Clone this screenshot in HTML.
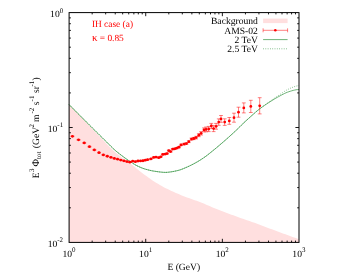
<!DOCTYPE html>
<html><head><meta charset="utf-8"><title>plot</title>
<style>html,body{margin:0;padding:0;background:#fff;}body{width:349px;height:274px;overflow:hidden;font-family:"Liberation Serif",serif;}</style>
</head><body>
<svg width="349" height="274" viewBox="0 0 349 274" style="display:block;filter:blur(0.3px)">
<rect width="349" height="274" fill="#fff"/>
<path d="M69.1,104.8 L71.03,106.81 L72.96,108.82 L74.9,110.82 L76.83,112.83 L78.76,114.83 L80.69,116.84 L82.62,118.84 L84.56,120.84 L86.49,122.84 L88.42,124.84 L90.35,126.85 L92.28,128.85 L94.22,130.85 L96.15,132.84 L98.08,134.83 L100.01,136.81 L101.94,138.81 L103.87,140.85 L105.81,142.9 L107.74,144.93 L109.67,146.93 L111.6,148.85 L113.53,150.69 L115.47,152.4 L117.4,153.99 L119.33,155.49 L121.26,156.95 L123.19,158.38 L125.13,159.76 L127.06,161.13 L128.99,162.52 L130.92,163.99 L132.85,165.52 L134.79,167.1 L136.72,168.68 L138.65,170.24 L140.58,171.75 L142.51,173.23 L144.45,174.68 L146.38,176.11 L148.31,177.5 L150.24,178.84 L152.17,180.16 L154.11,181.45 L156.04,182.68 L157.97,183.86 L159.9,184.99 L161.83,186.08 L163.76,187.13 L165.7,188.15 L167.63,189.12 L169.56,190.07 L171.49,190.98 L173.42,191.86 L175.36,192.72 L177.29,193.56 L179.22,194.37 L181.15,195.16 L183.08,195.93 L185.02,196.68 L186.95,197.4 L188.88,198.11 L190.81,198.81 L192.74,199.51 L194.68,200.19 L196.61,200.86 L198.54,201.55 L200.47,202.28 L202.4,203.06 L204.34,203.86 L206.27,204.69 L208.2,205.52 L210.13,206.34 L212.06,207.14 L213.99,207.92 L215.93,208.69 L217.86,209.46 L219.79,210.22 L221.72,210.97 L223.65,211.72 L225.59,212.46 L227.52,213.19 L229.45,213.92 L231.38,214.64 L233.31,215.35 L235.25,216.05 L237.18,216.75 L239.11,217.45 L241.04,218.14 L242.97,218.82 L244.91,219.5 L246.84,220.18 L248.77,220.85 L250.7,221.51 L252.63,222.17 L254.57,222.85 L256.5,223.54 L258.43,224.25 L260.36,224.97 L262.29,225.69 L264.23,226.43 L266.16,227.16 L268.09,227.9 L270.02,228.63 L271.95,229.36 L273.88,230.09 L275.82,230.8 L277.75,231.51 L279.68,232.22 L281.61,232.93 L283.54,233.63 L285.48,234.34 L287.41,235.04 L289.34,235.74 L291.27,236.43 L293.2,237.13 L295.14,237.82 L297.07,238.51 L299,239.2 L299,242.4 L69.1,242.4 Z" fill="#ffdfdf"/>
<path d="M69.1,104.6 L70.55,106.06 L71.99,107.53 L73.44,108.99 L74.88,110.44 L76.33,111.9 L77.78,113.36 L79.22,114.81 L80.67,116.26 L82.11,117.71 L83.56,119.16 L85.01,120.61 L86.45,122.05 L87.9,123.49 L89.34,124.93 L90.79,126.37 L92.23,127.81 L93.68,129.24 L95.13,130.68 L96.57,132.11 L98.02,133.54 L99.46,134.97 L100.91,136.4 L102.36,137.82 L103.8,139.25 L105.25,140.67 L106.69,142.09 L108.14,143.53 L109.59,144.99 L111.03,146.45 L112.48,147.87 L113.92,149.23 L115.37,150.52 L116.82,151.74 L118.26,152.91 L119.71,154.03 L121.15,155.14 L122.6,156.23 L124.04,157.3 L125.49,158.36 L126.94,159.39 L128.38,160.39 L129.83,161.35 L131.27,162.3 L132.72,163.24 L134.17,164.14 L135.61,165 L137.06,165.79 L138.5,166.48 L139.95,167.13 L141.4,167.74 L142.84,168.3 L144.29,168.81 L145.73,169.25 L147.18,169.65 L148.63,170.03 L150.07,170.37 L151.52,170.69 L152.96,170.97 L154.41,171.21 L155.85,171.42 L157.3,171.63 L158.75,171.83 L160.19,172.02 L161.64,172.17 L163.08,172.3 L164.53,172.38 L165.98,172.4 L167.42,172.31 L168.87,172.15 L170.31,171.96 L171.76,171.75 L173.21,171.51 L174.65,171.23 L176.1,170.91 L177.54,170.57 L178.99,170.2 L180.44,169.75 L181.88,169.23 L183.33,168.66 L184.77,168.05 L186.22,167.43 L187.66,166.8 L189.11,166.14 L190.56,165.45 L192,164.73 L193.45,163.98 L194.89,163.2 L196.34,162.4 L197.79,161.56 L199.23,160.69 L200.68,159.78 L202.12,158.84 L203.57,157.87 L205.02,156.87 L206.46,155.8 L207.91,154.69 L209.35,153.55 L210.8,152.38 L212.25,151.21 L213.69,150.04 L215.14,148.86 L216.58,147.66 L218.03,146.44 L219.47,145.22 L220.92,143.98 L222.37,142.74 L223.81,141.49 L225.26,140.22 L226.7,138.95 L228.15,137.66 L229.6,136.36 L231.04,135.06 L232.49,133.74 L233.93,132.4 L235.38,131.06 L236.83,129.69 L238.27,128.29 L239.72,126.86 L241.16,125.42 L242.61,123.99 L244.06,122.59 L245.5,121.24 L246.95,119.93 L248.39,118.65 L249.84,117.35 L251.28,116.04 L252.73,114.74 L254.18,113.45 L255.62,112.18 L257.07,110.95 L258.51,109.77 L259.96,108.65 L261.41,107.58 L262.85,106.54 L264.3,105.54 L265.74,104.56 L267.19,103.61 L268.64,102.67 L270.08,101.75 L271.53,100.83 L272.97,99.93 L274.42,99.04 L275.87,98.18 L277.31,97.34 L278.76,96.54 L280.2,95.76 L281.65,94.98 L283.09,94.21 L284.54,93.47 L285.99,92.8 L287.43,92.21 L288.88,91.71 L290.32,91.24 L291.77,90.8 L293.22,90.39 L294.66,90.05 L296.11,89.78 L297.55,89.6 L299,89.5" fill="none" stroke="#1f8a2e" stroke-width="0.65"/>
<path d="M69.1,104.6 L70.55,106.06 L71.99,107.53 L73.44,108.99 L74.88,110.44 L76.33,111.9 L77.78,113.36 L79.22,114.81 L80.67,116.26 L82.11,117.71 L83.56,119.16 L85.01,120.61 L86.45,122.05 L87.9,123.49 L89.34,124.93 L90.79,126.37 L92.23,127.81 L93.68,129.24 L95.13,130.68 L96.57,132.11 L98.02,133.54 L99.46,134.97 L100.91,136.4 L102.36,137.82 L103.8,139.25 L105.25,140.67 L106.69,142.09 L108.14,143.53 L109.59,144.99 L111.03,146.45 L112.48,147.87 L113.92,149.23 L115.37,150.52 L116.82,151.74 L118.26,152.91 L119.71,154.03 L121.15,155.14 L122.6,156.23 L124.04,157.3 L125.49,158.36 L126.94,159.39 L128.38,160.39 L129.83,161.35 L131.27,162.3 L132.72,163.24 L134.17,164.14 L135.61,165 L137.06,165.79 L138.5,166.48 L139.95,167.13 L141.4,167.74 L142.84,168.3 L144.29,168.81 L145.73,169.25 L147.18,169.65 L148.63,170.03 L150.07,170.37 L151.52,170.69 L152.96,170.97 L154.41,171.21 L155.85,171.42 L157.3,171.63 L158.75,171.83 L160.19,172.02 L161.64,172.17 L163.08,172.3 L164.53,172.38 L165.98,172.4 L167.42,172.31 L168.87,172.15 L170.31,171.96 L171.76,171.75 L173.21,171.51 L174.65,171.23 L176.1,170.91 L177.54,170.57 L178.99,170.2 L180.44,169.75 L181.88,169.23 L183.33,168.66 L184.77,168.05 L186.22,167.43 L187.66,166.8 L189.11,166.14 L190.56,165.45 L192,164.73 L193.45,163.98 L194.89,163.2 L196.34,162.4 L197.79,161.56 L199.23,160.69 L200.68,159.78 L202.12,158.84 L203.57,157.87 L205.02,156.87 L206.46,155.8 L207.91,154.69 L209.35,153.55 L210.8,152.38 L212.25,151.21 L213.69,150.04 L215.14,148.86 L216.58,147.66 L218.03,146.44 L219.47,145.22 L220.92,143.98 L222.37,142.74 L223.81,141.49 L225.26,140.22 L226.7,138.95 L228.15,137.66 L229.6,136.36 L231.04,135.06 L232.49,133.74 L233.93,132.4 L235.38,131.06 L236.83,129.69 L238.27,128.29 L239.72,126.86 L241.16,125.42 L242.61,123.99 L244.06,122.59 L245.5,121.24 L246.95,119.93 L248.39,118.65 L249.84,117.35 L251.28,116.04 L252.73,114.74 L254.18,113.45 L255.62,112.18 L257.07,110.95 L258.51,109.77 L259.5,108.9 L260.17,108.4 L260.84,107.91 L261.51,107.41 L262.18,106.92 L262.85,106.43 L263.52,105.94 L264.19,105.45 L264.86,104.97 L265.53,104.49 L266.19,104 L266.86,103.52 L267.53,103.05 L268.2,102.57 L268.87,102.1 L269.54,101.62 L270.21,101.15 L270.88,100.68 L271.55,100.21 L272.22,99.75 L272.89,99.28 L273.56,98.82 L274.23,98.36 L274.9,97.9 L275.57,97.44 L276.24,96.98 L276.91,96.53 L277.58,96.08 L278.25,95.63 L278.92,95.19 L279.58,94.74 L280.25,94.29 L280.92,93.83 L281.59,93.37 L282.26,92.91 L282.93,92.45 L283.6,91.99 L284.27,91.55 L284.94,91.11 L285.61,90.69 L286.28,90.29 L286.95,89.9 L287.62,89.54 L288.29,89.21 L288.96,88.89 L289.63,88.58 L290.3,88.28 L290.97,87.98 L291.64,87.7 L292.31,87.43 L292.97,87.17 L293.64,86.92 L294.31,86.68 L294.98,86.46 L295.65,86.26 L296.32,86.07 L296.99,85.9 L297.66,85.75 L298.33,85.62 L299,85.5" fill="none" stroke="#1f8a2e" stroke-width="0.65" stroke-dasharray="0.8 1.5"/>
<g stroke="#ff0000" stroke-width="0.5" fill="#ff0000"><path d="M72.42,136.03 V136.63 M70.52,136.03 H74.32 M70.52,136.63 H74.32" fill="none"/><circle cx="72.42" cy="136.33" r="1.4" stroke="none"/><path d="M78.54,139.56 V140.19 M76.64,139.56 H80.44 M76.64,140.19 H80.44" fill="none"/><circle cx="78.54" cy="139.87" r="1.4" stroke="none"/><path d="M84.23,142.62 V143.26 M82.33,142.62 H86.13 M82.33,143.26 H86.13" fill="none"/><circle cx="84.23" cy="142.94" r="1.4" stroke="none"/><path d="M89.45,146.35 V147 M87.55,146.35 H91.35 M87.55,147 H91.35" fill="none"/><circle cx="89.45" cy="146.67" r="1.4" stroke="none"/><path d="M94.35,149.62 V150.28 M92.45,149.62 H96.25 M92.45,150.28 H96.25" fill="none"/><circle cx="94.35" cy="149.95" r="1.4" stroke="none"/><path d="M99.03,152.34 V153.01 M97.13,152.34 H100.93 M97.13,153.01 H100.93" fill="none"/><circle cx="99.03" cy="152.68" r="1.4" stroke="none"/><path d="M103.36,154.55 V155.24 M101.46,154.55 H105.26 M101.46,155.24 H105.26" fill="none"/><circle cx="103.36" cy="154.9" r="1.4" stroke="none"/><path d="M107.3,155.91 V156.6 M105.4,155.91 H109.2 M105.4,156.6 H109.2" fill="none"/><circle cx="107.3" cy="156.25" r="1.4" stroke="none"/><path d="M110.92,157.02 V157.72 M109.02,157.02 H112.82 M109.02,157.72 H112.82" fill="none"/><circle cx="110.92" cy="157.37" r="1.4" stroke="none"/><path d="M114.31,158.05 V158.76 M112.41,158.05 H116.21 M112.41,158.76 H116.21" fill="none"/><circle cx="114.31" cy="158.4" r="1.4" stroke="none"/><path d="M117.58,158.79 V159.51 M115.68,158.79 H119.48 M115.68,159.51 H119.48" fill="none"/><circle cx="117.58" cy="159.15" r="1.4" stroke="none"/><path d="M120.8,159.72 V160.45 M118.9,159.72 H122.7 M118.9,160.45 H122.7" fill="none"/><circle cx="120.8" cy="160.08" r="1.4" stroke="none"/><path d="M123.96,160.45 V161.19 M122.06,160.45 H125.86 M122.06,161.19 H125.86" fill="none"/><circle cx="123.96" cy="160.82" r="1.4" stroke="none"/><path d="M126.99,161.23 V161.97 M125.09,161.23 H128.89 M125.09,161.97 H128.89" fill="none"/><circle cx="126.99" cy="161.6" r="1.4" stroke="none"/><path d="M129.9,161.79 V162.54 M128,161.79 H131.8 M128,162.54 H131.8" fill="none"/><circle cx="129.9" cy="162.16" r="1.4" stroke="none"/><path d="M132.7,160.75 V161.5 M130.8,160.75 H134.6 M130.8,161.5 H134.6" fill="none"/><circle cx="132.7" cy="161.13" r="1.4" stroke="none"/><path d="M135.39,161.28 V162.04 M133.49,161.28 H137.29 M133.49,162.04 H137.29" fill="none"/><circle cx="135.39" cy="161.66" r="1.4" stroke="none"/><path d="M137.99,160.62 V161.39 M136.09,160.62 H139.89 M136.09,161.39 H139.89" fill="none"/><circle cx="137.99" cy="161.01" r="1.4" stroke="none"/><path d="M140.51,160.49 V161.27 M138.61,160.49 H142.41 M138.61,161.27 H142.41" fill="none"/><circle cx="140.51" cy="160.88" r="1.4" stroke="none"/><path d="M142.96,160.36 V161.14 M141.06,160.36 H144.86 M141.06,161.14 H144.86" fill="none"/><circle cx="142.96" cy="160.75" r="1.4" stroke="none"/><path d="M145.33,159.81 V160.6 M143.43,159.81 H147.23 M143.43,160.6 H147.23" fill="none"/><circle cx="145.33" cy="160.2" r="1.4" stroke="none"/><path d="M147.62,159.25 V160.05 M145.72,159.25 H149.52 M145.72,160.05 H149.52" fill="none"/><circle cx="147.62" cy="159.65" r="1.4" stroke="none"/><path d="M150.9,158.5 V159.3 M149,158.5 H152.8 M149,159.3 H152.8" fill="none"/><circle cx="150.9" cy="158.9" r="1.4" stroke="none"/><path d="M153.7,157 V157.8 M151.8,157 H155.6 M151.8,157.8 H155.6" fill="none"/><circle cx="153.7" cy="157.4" r="1.4" stroke="none"/><path d="M156,156.7 V157.5 M154.1,156.7 H157.9 M154.1,157.5 H157.9" fill="none"/><circle cx="156" cy="157.1" r="1.4" stroke="none"/><path d="M158.7,157.3 V158.1 M156.8,157.3 H160.6 M156.8,158.1 H160.6" fill="none"/><circle cx="158.7" cy="157.7" r="1.4" stroke="none"/><path d="M160.8,156.4 V157.2 M158.9,156.4 H162.7 M158.9,157.2 H162.7" fill="none"/><circle cx="160.8" cy="156.8" r="1.4" stroke="none"/><path d="M162.8,153.9 V154.9 M160.9,153.9 H164.7 M160.9,154.9 H164.7" fill="none"/><circle cx="162.8" cy="154.4" r="1.4" stroke="none"/><path d="M165.1,153.6 V154.6 M163.2,153.6 H167 M163.2,154.6 H167" fill="none"/><circle cx="165.1" cy="154.1" r="1.4" stroke="none"/><path d="M167,153.1 V154.1 M165.1,153.1 H168.9 M165.1,154.1 H168.9" fill="none"/><circle cx="167" cy="153.6" r="1.4" stroke="none"/><path d="M168.8,150.1 V151.1 M166.9,150.1 H170.7 M166.9,151.1 H170.7" fill="none"/><circle cx="168.8" cy="150.6" r="1.4" stroke="none"/><path d="M170.6,151 V152.2 M168.7,151 H172.5 M168.7,152.2 H172.5" fill="none"/><circle cx="170.6" cy="151.6" r="1.4" stroke="none"/><path d="M172.75,148.5 V149.7 M170.85,148.5 H174.65 M170.85,149.7 H174.65" fill="none"/><circle cx="172.75" cy="149.1" r="1.4" stroke="none"/><path d="M174.8,148.2 V149.4 M172.9,148.2 H176.7 M172.9,149.4 H176.7" fill="none"/><circle cx="174.8" cy="148.8" r="1.4" stroke="none"/><path d="M176.8,147.5 V148.7 M174.9,147.5 H178.7 M174.9,148.7 H178.7" fill="none"/><circle cx="176.8" cy="148.1" r="1.4" stroke="none"/><path d="M178.9,146.5 V147.9 M177,146.5 H180.8 M177,147.9 H180.8" fill="none"/><circle cx="178.9" cy="147.2" r="1.4" stroke="none"/><path d="M181.1,144.2 V145.6 M179.2,144.2 H183 M179.2,145.6 H183" fill="none"/><circle cx="181.1" cy="144.9" r="1.4" stroke="none"/><path d="M184.1,143.3 V144.9 M182.2,143.3 H186 M182.2,144.9 H186" fill="none"/><circle cx="184.1" cy="144.1" r="1.4" stroke="none"/><path d="M186.4,142.8 V144.4 M184.5,142.8 H188.3 M184.5,144.4 H188.3" fill="none"/><circle cx="186.4" cy="143.6" r="1.4" stroke="none"/><path d="M188.8,140.8 V142.6 M186.9,140.8 H190.7 M186.9,142.6 H190.7" fill="none"/><circle cx="188.8" cy="141.7" r="1.4" stroke="none"/><path d="M191.5,138.1 V140.1 M189.6,138.1 H193.4 M189.6,140.1 H193.4" fill="none"/><circle cx="191.5" cy="139.1" r="1.4" stroke="none"/><path d="M193.8,137.4 V139.6 M191.9,137.4 H195.7 M191.9,139.6 H195.7" fill="none"/><circle cx="193.8" cy="138.5" r="1.4" stroke="none"/><path d="M196.1,136.3 V138.9 M194.2,136.3 H198 M194.2,138.9 H198" fill="none"/><circle cx="196.1" cy="137.6" r="1.4" stroke="none"/><path d="M198.8,133.7 V136.7 M196.9,133.7 H200.7 M196.9,136.7 H200.7" fill="none"/><circle cx="198.8" cy="135.2" r="1.4" stroke="none"/><path d="M201.1,131.6 V135 M199.2,131.6 H203 M199.2,135 H203" fill="none"/><circle cx="201.1" cy="133.3" r="1.4" stroke="none"/><path d="M204,127.9 V131.9 M202.1,127.9 H205.9 M202.1,131.9 H205.9" fill="none"/><circle cx="204" cy="129.9" r="1.4" stroke="none"/><path d="M206.1,127 V131.8 M204.2,127 H208 M204.2,131.8 H208" fill="none"/><circle cx="206.1" cy="129.4" r="1.4" stroke="none"/><path d="M208.7,126.4 V131.6 M206.8,126.4 H210.6 M206.8,131.6 H210.6" fill="none"/><circle cx="208.7" cy="129" r="1.4" stroke="none"/><path d="M211.3,123.4 V128.6 M209.4,123.4 H213.2 M209.4,128.6 H213.2" fill="none"/><circle cx="211.3" cy="126" r="1.4" stroke="none"/><path d="M213.6,125.6 V131.6 M211.7,125.6 H215.5 M211.7,131.6 H215.5" fill="none"/><circle cx="213.6" cy="128.6" r="1.4" stroke="none"/><path d="M216.1,123.4 V129.2 M214.2,123.4 H218 M214.2,129.2 H218" fill="none"/><circle cx="216.1" cy="126.3" r="1.4" stroke="none"/><path d="M218.75,118.9 V125.3 M216.85,118.9 H220.65 M216.85,125.3 H220.65" fill="none"/><circle cx="218.75" cy="122.1" r="1.4" stroke="none"/><path d="M221,115.5 V122.3 M219.1,115.5 H222.9 M219.1,122.3 H222.9" fill="none"/><circle cx="221" cy="118.9" r="1.4" stroke="none"/><path d="M224.7,118.8 V125.4 M222.8,118.8 H226.6 M222.8,125.4 H226.6" fill="none"/><circle cx="224.7" cy="122.1" r="1.4" stroke="none"/><path d="M229.3,117.5 V124.3 M227.4,117.5 H231.2 M227.4,124.3 H231.2" fill="none"/><circle cx="229.3" cy="120.9" r="1.4" stroke="none"/><path d="M234,113.2 V122.2 M232.1,113.2 H235.9 M232.1,122.2 H235.9" fill="none"/><circle cx="234" cy="117.7" r="1.4" stroke="none"/><path d="M238.5,107.2 V117.2 M236.6,107.2 H240.4 M236.6,117.2 H240.4" fill="none"/><circle cx="238.5" cy="112.2" r="1.4" stroke="none"/><path d="M243.8,102.9 V112.9 M241.9,102.9 H245.7 M241.9,112.9 H245.7" fill="none"/><circle cx="243.8" cy="107.9" r="1.4" stroke="none"/><path d="M250.8,100.3 V112.5 M248.9,100.3 H252.7 M248.9,112.5 H252.7" fill="none"/><circle cx="250.8" cy="106.4" r="1.4" stroke="none"/><path d="M259.7,97.7 V113.9 M257.8,97.7 H261.6 M257.8,113.9 H261.6" fill="none"/><circle cx="259.7" cy="105.8" r="1.4" stroke="none"/></g>
<g stroke="#000" stroke-width="1" fill="none"><rect x="69.1" y="12.6" width="229.9" height="229.8"/></g><g stroke="#000" stroke-width="0.9" fill="none"><path d="M92.17,242.4 v-1.8 M92.17,12.6 v1.8 M105.66,242.4 v-1.8 M105.66,12.6 v1.8 M115.24,242.4 v-1.8 M115.24,12.6 v1.8 M122.66,242.4 v-1.8 M122.66,12.6 v1.8 M128.73,242.4 v-1.8 M128.73,12.6 v1.8 M133.86,242.4 v-1.8 M133.86,12.6 v1.8 M138.31,242.4 v-1.8 M138.31,12.6 v1.8 M142.23,242.4 v-1.8 M142.23,12.6 v1.8 M145.73,242.4 v-3.6 M145.73,12.6 v3.6 M168.8,242.4 v-1.8 M168.8,12.6 v1.8 M182.3,242.4 v-1.8 M182.3,12.6 v1.8 M191.87,242.4 v-1.8 M191.87,12.6 v1.8 M199.3,242.4 v-1.8 M199.3,12.6 v1.8 M205.37,242.4 v-1.8 M205.37,12.6 v1.8 M210.5,242.4 v-1.8 M210.5,12.6 v1.8 M214.94,242.4 v-1.8 M214.94,12.6 v1.8 M218.86,242.4 v-1.8 M218.86,12.6 v1.8 M222.37,242.4 v-3.6 M222.37,12.6 v3.6 M245.44,242.4 v-1.8 M245.44,12.6 v1.8 M258.93,242.4 v-1.8 M258.93,12.6 v1.8 M268.5,242.4 v-1.8 M268.5,12.6 v1.8 M275.93,242.4 v-1.8 M275.93,12.6 v1.8 M282,242.4 v-1.8 M282,12.6 v1.8 M287.13,242.4 v-1.8 M287.13,12.6 v1.8 M291.57,242.4 v-1.8 M291.57,12.6 v1.8 M295.49,242.4 v-1.8 M295.49,12.6 v1.8 M69.1,207.81 h1.8 M299,207.81 h-1.8 M69.1,187.58 h1.8 M299,187.58 h-1.8 M69.1,173.22 h1.8 M299,173.22 h-1.8 M69.1,162.09 h1.8 M299,162.09 h-1.8 M69.1,152.99 h1.8 M299,152.99 h-1.8 M69.1,145.3 h1.8 M299,145.3 h-1.8 M69.1,138.63 h1.8 M299,138.63 h-1.8 M69.1,132.76 h1.8 M299,132.76 h-1.8 M69.1,127.5 h3.6 M299,127.5 h-3.6 M69.1,92.91 h1.8 M299,92.91 h-1.8 M69.1,72.68 h1.8 M299,72.68 h-1.8 M69.1,58.32 h1.8 M299,58.32 h-1.8 M69.1,47.19 h1.8 M299,47.19 h-1.8 M69.1,38.09 h1.8 M299,38.09 h-1.8 M69.1,30.4 h1.8 M299,30.4 h-1.8 M69.1,23.73 h1.8 M299,23.73 h-1.8 M69.1,17.86 h1.8 M299,17.86 h-1.8"/></g>
<g font-family="'Liberation Serif', serif" font-size="9.6" fill="#000" text-rendering="geometricPrecision" transform="rotate(0.02)"><text x="63.2" y="16.7" text-anchor="end">10<tspan font-size="7.0" dy="-4.2">0</tspan></text><text x="63.2" y="131.6" text-anchor="end">10<tspan font-size="7.0" dy="-4.2">-1</tspan></text><text x="63.2" y="246.5" text-anchor="end">10<tspan font-size="7.0" dy="-4.2">-2</tspan></text><text x="69.1" y="256.6" text-anchor="middle">10<tspan font-size="7.0" dy="-4.2">0</tspan></text><text x="145.73" y="256.6" text-anchor="middle">10<tspan font-size="7.0" dy="-4.2">1</tspan></text><text x="222.37" y="256.6" text-anchor="middle">10<tspan font-size="7.0" dy="-4.2">2</tspan></text><text x="299" y="256.6" text-anchor="middle">10<tspan font-size="7.0" dy="-4.2">3</tspan></text><text x="183.9" y="270.0" text-anchor="middle">E (GeV)</text><text transform="translate(39,178.3) rotate(-90)" font-size="9.6">E</text><text transform="translate(34,172) rotate(-90)" font-size="7.0">3</text><text transform="translate(39,166.5) rotate(-90)" font-size="10.2">Φ</text><text transform="translate(41.2,158.9) rotate(-90)" font-size="7.0">tot</text><text transform="translate(39,148.2) rotate(-90)" font-size="9.6">(GeV</text><text transform="translate(34,127.6) rotate(-90)" font-size="7.0">2</text><text transform="translate(39,121.9) rotate(-90)" font-size="9.6">m</text><text transform="translate(34,113.6) rotate(-90)" font-size="7.0">-2</text><text transform="translate(39,105.3) rotate(-90)" font-size="9.6">s</text><text transform="translate(34,101.4) rotate(-90)" font-size="7.0">-1</text><text transform="translate(39,92.9) rotate(-90)" font-size="9.6">sr</text><text transform="translate(34,86.5) rotate(-90)" font-size="7.0">-1</text><text transform="translate(39,80.5) rotate(-90)" font-size="9.6">)</text><text x="257.9" y="24.25" text-anchor="end">Background</text><text x="257.9" y="33.7" text-anchor="end">AMS-02</text><text x="257.9" y="43" text-anchor="end">2 TeV</text><text x="257.9" y="52.2" text-anchor="end">2.5 TeV</text><text x="91.9" y="26.9" fill="#ff0000" font-size="9.4">IH case (a)</text><text x="91.9" y="40.9" fill="#ff0000" font-size="9.4"><tspan font-size="11">κ</tspan> = 0.85</text></g>
<rect x="263.1" y="18.6" width="24.5" height="4.5" fill="#ffdfdf"/>
<g stroke="#ff0000" stroke-width="0.5" fill="none"><path d="M263.1,30.3 H287.6 M263.1,28.3 v4 M287.6,28.3 v4"/></g><circle cx="275.3" cy="30.3" r="1.25" fill="#ff0000"/>
<path d="M263.1,39.6 H287.6" stroke="#1f8a2e" stroke-width="0.65" fill="none"/>
<path d="M263.1,48.8 H287.6" stroke="#1f8a2e" stroke-width="0.65" stroke-dasharray="0.8 1.5" fill="none"/>
</svg>
</body></html>
